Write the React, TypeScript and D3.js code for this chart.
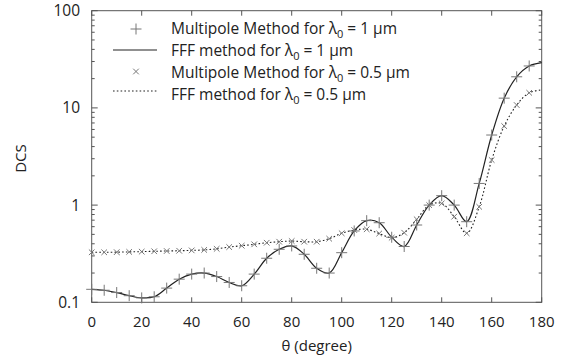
import React from "react";
import * as d3 from "d3";

const thetaLine = [0,5,10,15,20,25,30,35,40,45,50,55,60,65,70,75,80,85,90,95,100,105,110,115,120,125,130,135,140,145,150,155,160,165,170,175,180];
const fff1 = [0.136,0.133,0.126,0.117,0.111,0.114,0.14,0.173,0.195,0.2,0.184,0.16,0.148,0.195,0.284,0.351,0.38,0.312,0.224,0.2,0.324,0.542,0.692,0.659,0.467,0.375,0.624,1.0,1.25,1.0,0.675,1.67,5.26,12.6,20.9,27.0,29.2];
const fff05 = [0.327,0.327,0.328,0.33,0.332,0.335,0.337,0.339,0.342,0.346,0.355,0.37,0.382,0.395,0.41,0.42,0.427,0.42,0.42,0.451,0.513,0.554,0.564,0.51,0.462,0.52,0.714,1.0,1.04,0.76,0.513,0.96,2.91,6.5,10.7,14.3,15.3];

const thetaMarks = [0,5,10,15,20,25,30,35,40,45,50,55,60,65,70,75,80,85,90,95,100,105,110,115,120,125,130,135,140,145,150,155,160,165,170,175];
const mp1 = [0.136,0.133,0.126,0.117,0.111,0.114,0.14,0.173,0.195,0.2,0.184,0.16,0.148,0.195,0.284,0.351,0.38,0.312,0.224,0.2,0.324,0.542,0.692,0.659,0.467,0.375,0.624,1.0,1.25,1.0,0.675,1.67,5.26,12.6,20.9,27.0];
const mp05 = [0.327,0.327,0.328,0.33,0.332,0.335,0.337,0.339,0.342,0.346,0.355,0.37,0.382,0.395,0.41,0.42,0.427,0.42,0.42,0.451,0.513,0.554,0.564,0.51,0.462,0.52,0.714,1.0,1.04,0.76,0.513,0.96,2.91,6.5,10.7,14.3];

const xTicks = [0,20,40,60,80,100,120,140,160,180];
const yTicks = [0.1,1,10,100];
const yTickLabels = ["0.1","1","10","100"];

const FONT = "'Open Sans', sans-serif";

export default function App() {
  const L = 91.7, R = 541.7, T = 10.7, B = 302.3;
  const x = d3.scaleLinear().domain([0, 180]).range([L, R]);
  const y = d3.scaleLog().domain([0.1, 100]).range([B, T]);
  const line = d3.line<[number, number]>().x(d => x(d[0])).y(d => y(d[1])).curve(d3.curveCatmullRom.alpha(0.5));
  const d1 = line(thetaLine.map((t, i) => [t, fff1[i]] as [number, number])) || "";
  const d05 = line(thetaLine.map((t, i) => [t, fff05[i]] as [number, number])) || "";

  const minor: number[] = [];
  for (let e = -1; e < 2; e++) for (let k = 2; k <= 9; k++) minor.push(k * Math.pow(10, e));

  const axisColor = "#555";
  const markColor = "#777";
  const plus = (cx: number, cy: number, key: string | number, s = 5.5) => (
    <path key={key} d={`M${cx - s},${cy}H${cx + s}M${cx},${cy - s}V${cy + s}`} stroke={markColor} strokeWidth={1} fill="none" />
  );
  const cross = (cx: number, cy: number, key: string | number, s = 2.8) => (
    <path key={key} d={`M${cx - s},${cy - s}L${cx + s},${cy + s}M${cx - s},${cy + s}L${cx + s},${cy - s}`} stroke={markColor} strokeWidth={1} fill="none" />
  );

  const legendRows = [
    { y: 28, sy: 29, text: "Multipole Method for ", unit: " = 1 μm", kind: "plus" },
    { y: 50, sy: 50, text: "FFF method for ", unit: " = 1 μm", kind: "solid" },
    { y: 72, sy: 71.5, text: "Multipole Method for ", unit: " = 0.5 μm", kind: "cross" },
    { y: 94, sy: 91, text: "FFF method for ", unit: " = 0.5 μm", kind: "dot" },
  ];

  return (
    <svg width={574} height={360} style={{ position: "absolute", left: 0, top: 0, background: "#fff" }} fontFamily={FONT}>
      <rect x={0} y={0} width={574} height={360} fill="#fff" />
      <rect x={L} y={T} width={R - L} height={B - T} fill="none" stroke={axisColor} strokeWidth={1} />
      {xTicks.map(t => (
        <g key={"xt" + t}>
          <line x1={x(t)} x2={x(t)} y1={B} y2={B - 5} stroke={axisColor} />
          <line x1={x(t)} x2={x(t)} y1={T} y2={T + 5} stroke={axisColor} />
          <text x={x(t)} y={327} textAnchor="middle" fontSize={15} fill="#222">{t}</text>
        </g>
      ))}
      {yTicks.map((t, i) => (
        <g key={"yt" + t}>
          <line x1={L} x2={L + 6} y1={y(t)} y2={y(t)} stroke={axisColor} />
          <line x1={R} x2={R - 6} y1={y(t)} y2={y(t)} stroke={axisColor} />
          <text x={80} y={y(t) + 5.5} textAnchor="end" fontSize={15.5} fill="#222">{yTickLabels[i]}</text>
        </g>
      ))}
      {minor.map(t => (
        <g key={"ym" + t}>
          <line x1={L} x2={L + 3} y1={y(t)} y2={y(t)} stroke={axisColor} />
          <line x1={R} x2={R - 3} y1={y(t)} y2={y(t)} stroke={axisColor} />
        </g>
      ))}
      <text x={0} y={0} transform={`translate(26,${(T + B) / 2 + 2}) rotate(-90)`} textAnchor="middle" fontSize={15} fill="#222">DCS</text>
      <text x={(L + R) / 2} y={351} textAnchor="middle" fontSize={15} fill="#222">θ (degree)</text>

      <path d={d1} fill="none" stroke="#222" strokeWidth={1.2} />
      <path d={d05} fill="none" stroke="#222" strokeWidth={1.1} strokeDasharray="1.6,2.2" />
      {thetaMarks.map((t, i) => plus(x(t), y(mp1[i]), "p" + i))}
      {thetaMarks.map((t, i) => cross(x(t), y(mp05[i]), "c" + i))}

      {legendRows.map((r, i) => (
        <g key={"lg" + i}>
          {r.kind === "plus" && plus(136, r.sy, "lp")}
          {r.kind === "cross" && cross(136, r.sy, "lc")}
          {r.kind === "solid" && <line x1={113} x2={157} y1={r.sy} y2={r.sy} stroke="#222" strokeWidth={1.2} />}
          {r.kind === "dot" && <line x1={113} x2={157} y1={r.sy} y2={r.sy} stroke="#222" strokeWidth={1.1} strokeDasharray="1.6,2.2" />}
          <text x={171} y={r.y + 6} fontSize={15.5} fill="#222">
            {r.text}λ<tspan fontSize={11} dy={3.5}>0</tspan><tspan dy={-3.5}>{r.unit}</tspan>
          </text>
        </g>
      ))}
    </svg>
  );
}
